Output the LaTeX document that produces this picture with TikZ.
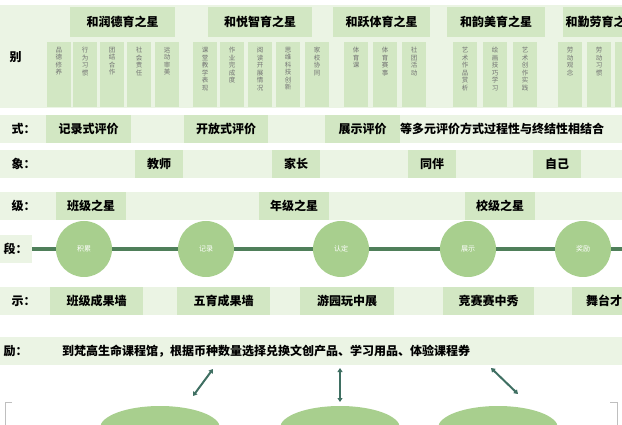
\documentclass[tikz,border=0pt]{standalone}
\usepackage{fontspec}
\setmainfont{Noto Sans CJK SC}
\usetikzlibrary{arrows.meta,shapes.geometric}
\definecolor{band}{HTML}{EBF4E4}
\definecolor{cell}{HTML}{D2E7C3}
\definecolor{ball}{HTML}{A8CF8E}
\definecolor{rail}{HTML}{4F7F5A}
\definecolor{teal}{HTML}{3F6F62}
\tikzset{
  cellbox/.style={fill=cell, inner sep=0pt, font=\bfseries\fontsize{12}{12}\selectfont},
  subbox/.style={fill=cell, inner sep=0pt, text=black!55, align=center, anchor=north west,
    font=\fontsize{6.5}{7.5}\selectfont},
  rowlabel/.style={anchor=west, font=\bfseries\fontsize{12}{12}\selectfont},
  stage/.style={circle, fill=ball, minimum size=56pt, inner sep=0pt, text=white,
    font=\fontsize{7}{7}\selectfont},
  link/.style={teal, line width=2pt, {Triangle[length=4pt,width=5pt]}-{Triangle[length=4pt,width=5pt]}}
}
\begin{document}
\begin{tikzpicture}[x=1pt,y=-1pt]
  \useasboundingbox (0,0) rectangle (622,425);
  % bands
  \fill[band] (0,5) rectangle (622,108);
  \foreach \ya/\yb in {115/143, 150/178, 192/220, 287/315, 337/365}
    \fill[band] (0,\ya) rectangle (622,\yb);
  \node[rowlabel] (lbl0) at (6,57) {别};
  % headers
  \foreach \n/\xa/\xb/\t in {h1/70/175/和润德育之星, h2/208/312/和悦智育之星, h3/333/430/和跃体育之星,
      h4/447/545/和韵美育之星, h5/563/640/和勤劳育之星}
    \node[cellbox, minimum width=\xb pt-\xa pt, minimum height=30pt, anchor=north west] (\n) at (\xa,7) {\t};
  % sub items
  \foreach \n/\x in {s1/47, s2/73, s3/100, s4/127, s5/155, s6/193, s7/220, s8/248, s9/276, s10/305,
      s11/344, s12/373, s13/402, s14/453, s15/483, s16/513, s17/558, s18/587, s19/615}
    \node[subbox, minimum width=24pt, minimum height=65pt] (\n) at (\x,42) {};
  \foreach \n/\x/\t in {s1/47/品\\德\\修\\养, s2/73/行\\为\\习\\惯, s3/100/团\\结\\合\\作, s4/127/社\\会\\责\\任,
      s5/155/运\\动\\审\\美, s6/193/课\\堂\\教\\学\\表\\现, s7/220/作\\业\\完\\成\\度, s8/248/阅\\读\\开\\展\\情\\况,
      s9/276/思\\维\\科\\技\\创\\新, s10/305/家\\校\\协\\同, s11/344/体\\育\\课, s12/373/体\\育\\赛\\事,
      s13/402/社\\团\\活\\动, s14/453/艺\\术\\作\\品\\赏\\析, s15/483/绘\\画\\技\\巧\\学\\习,
      s16/513/艺\\术\\创\\作\\实\\践, s17/558/劳\\动\\观\\念, s18/587/劳\\动\\习\\惯}
    \node[text=black!55, align=center, anchor=north, inner sep=0pt, font=\fontsize{6.5}{7.5}\selectfont] (t\n) at (\x+12,47) {\t};
  % row 2
  \node[rowlabel] (lbl1) at (8,129) {式：};
  \foreach \n/\xa/\xb/\t in {m1/46/131/记录式评价, m2/184/268/开放式评价, m3/325/400/展示评价}
    \node[cellbox, minimum width=\xb pt-\xa pt, minimum height=28pt, anchor=west] (\n) at (\xa,129) {\t};
  \node[anchor=west, inner sep=0pt, font=\bfseries\fontsize{12}{12}\selectfont] (m4) at (400,129) {等多元评价方式过程性与终结性相结合};
  % row 3
  \node[rowlabel] (lbl2) at (8,164) {象：};
  \foreach \n/\xa/\xb/\t in {o1/135/183/教师, o2/272/320/家长, o3/408/456/同伴, o4/533/581/自己}
    \node[cellbox, minimum width=\xb pt-\xa pt, minimum height=28pt, anchor=west] (\n) at (\xa,164) {\t};
  % row 4
  \node[rowlabel] (lbl3) at (8,206) {级：};
  \foreach \n/\xa/\xb/\t in {g1/56/126/班级之星, g2/259/329/年级之星, g3/465/535/校级之星}
    \node[cellbox, minimum width=\xb pt-\xa pt, minimum height=28pt, anchor=west] (\n) at (\xa,206) {\t};
  % row 5 stages
  \fill[band] (0,235) rectangle (32,263);
  \node[rowlabel] (lbl4) at (0,249) {段：};
  \coordinate (r0) at (32,249);
  \coordinate (r1) at (622,249);
  \draw[rail, line width=4pt] (r0) -- (r1);
  \foreach \n/\x/\t in {p1/84/积累, p2/206/记录, p3/341/认定, p4/468/展示, p5/583/奖励}
    \node[stage] (\n) at (\x,249) {\t};
  % row 6
  \node[rowlabel] (lbl5) at (8,301) {示：};
  \foreach \n/\xa/\xb/\t in {w1/50/143/班级成果墙, w2/177/270/五育成果墙, w3/300/394/游园玩中展,
      w4/443/534/竞赛赛中秀, w5/572/660/舞台才艺秀}
    \node[cellbox, minimum width=\xb pt-\xa pt, minimum height=28pt, anchor=west] (\n) at (\xa,301) {\t};
  % row 7
  \node[rowlabel] (lbl6) at (0,351) {励：};
  \node[anchor=west, inner sep=0pt, font=\bfseries\fontsize{12}{12}\selectfont] (rw) at (62,351)
    {到梵高生命课程馆，根据币种数量选择兑换文创产品、学习用品、体验课程券};
  % bottom ovals
  \foreach \n/\x in {e1/160, e2/340, e3/498}
    \node[ellipse, fill=ball, minimum width=120pt, minimum height=44pt, inner sep=0pt] (\n) at (\x,428) {};
  \coordinate (a1) at (213,369); \coordinate (b1) at (193,396);
  \coordinate (a2) at (340,368); \coordinate (b2) at (340,402);
  \coordinate (a3) at (491,368); \coordinate (b3) at (518,394);
  \foreach \i in {1,2,3}
    \draw[link] (a\i) -- (b\i);
  % corner marks
  \draw[black!25, line width=0.6pt] (12,402) -- (5,402) -- (5,425);
  \draw[black!25, line width=0.6pt] (610,402) -- (617,402) -- (617,425);
\end{tikzpicture}
\end{document}
